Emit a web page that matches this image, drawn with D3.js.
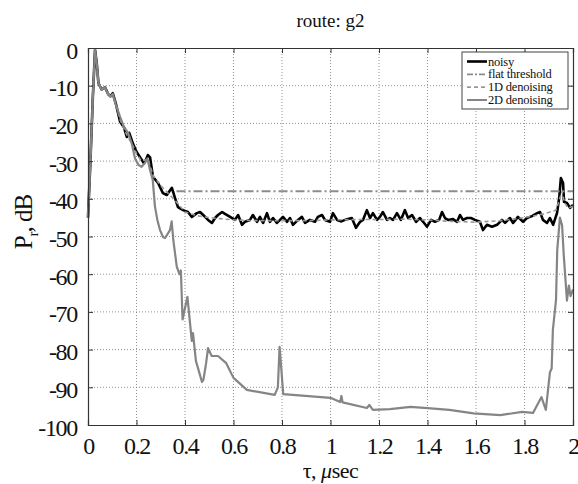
<!DOCTYPE html>
<html lang="en">
  <head>
    <meta charset="UTF-8" />
    <title>route: g2</title>
    <script src="https://d3js.org/d3.v7.min.js"></script>
    <style>
      body { margin: 0; background: #fff; }
      text { font-family: "Liberation Serif", "DejaVu Serif", serif; fill: #111; }
      .tick-label { font-size: 24px; letter-spacing: -1.3px; }
      .legend_text { font-size: 12.5px; letter-spacing: -0.2px; }
    </style>
  </head>
  <body>
    <svg width="578" height="484"></svg>
    <script>
      // tick values / labels
      const xTicks = [0, 0.2, 0.4, 0.6, 0.8, 1, 1.2, 1.4, 1.6, 1.8, 2];
      const yTicks = [0, -10, -20, -30, -40, -50, -60, -70, -80, -90, -100];

      // [tau (usec), power (dB)]
      const noisy = [
        [0, -45], [0.01, -30], [0.02, -13], [0.029, -0.5], [0.036, -4], [0.043, -9.3],
        [0.056, -11], [0.07, -10.4], [0.084, -12.3], [0.093, -12.8], [0.102, -12],
        [0.115, -14.8], [0.132, -19.5], [0.148, -21], [0.16, -23.6], [0.17, -22.5],
        [0.186, -25.5], [0.2, -27.5], [0.215, -29], [0.23, -30.5], [0.24, -29.5],
        [0.247, -28.4], [0.256, -29], [0.268, -34.2], [0.289, -35.8], [0.309, -38.5],
        [0.325, -39], [0.346, -37.1], [0.359, -39.8], [0.371, -42.2], [0.392, -43],
        [0.412, -43.5], [0.428, -44.8], [0.449, -43.8], [0.462, -43.5], [0.475, -44.3],
        [0.495, -45.6], [0.511, -46.4], [0.524, -45.1], [0.536, -44.3], [0.553, -43.5],
        [0.565, -44], [0.586, -44.8], [0.606, -45.6], [0.619, -44.3], [0.635, -46.9],
        [0.647, -46.1], [0.668, -45.6], [0.68, -44.3], [0.697, -46.1], [0.709, -44.8],
        [0.722, -46.4], [0.738, -43.8], [0.75, -46.1], [0.763, -45.1], [0.779, -46.4],
        [0.792, -45.6], [0.804, -44.8], [0.821, -46.1], [0.833, -45.1], [0.845, -46.9],
        [0.866, -45.6], [0.882, -44.8], [0.895, -46.4], [0.915, -45.6], [0.936, -46.1],
        [0.948, -44.8], [0.965, -44.3], [0.977, -45.6], [0.998, -46.1], [1.01, -43.8],
        [1.027, -45.6], [1.045, -46], [1.068, -45.4], [1.088, -45.1], [1.105, -47.7],
        [1.122, -46.1], [1.134, -45.6], [1.15, -43], [1.163, -45.1], [1.175, -43.8],
        [1.192, -45.6], [1.204, -44.8], [1.216, -43.5], [1.233, -45.6], [1.245, -45.1],
        [1.258, -45.6], [1.274, -43.8], [1.29, -45.6], [1.307, -43], [1.32, -45.1],
        [1.336, -44.3], [1.353, -46.1], [1.369, -45.1], [1.382, -46.1], [1.398, -47.4],
        [1.415, -45.6], [1.431, -46.1], [1.448, -45.6], [1.46, -43.5], [1.472, -45.1],
        [1.485, -45.6], [1.505, -45.4], [1.522, -46.1], [1.534, -44.3], [1.546, -45.6],
        [1.563, -45.1], [1.579, -45.1], [1.596, -45.6], [1.616, -46.1], [1.629, -48.3],
        [1.645, -46.9], [1.666, -47.4], [1.687, -46.9], [1.707, -45.6], [1.72, -46.4],
        [1.74, -45.1], [1.753, -46.4], [1.773, -44.8], [1.794, -46.1], [1.81, -45.1],
        [1.831, -44.6], [1.852, -43.8], [1.864, -43.5], [1.876, -45.6], [1.893, -46.4],
        [1.905, -45.1], [1.918, -46.9], [1.934, -43.8], [1.943, -39.8], [1.95, -34.5],
        [1.959, -35.8], [1.963, -40.8], [1.975, -41.1], [1.988, -42.4], [2.0, -41.6]
      ];

      const flatThreshold = [[0.365, -38], [2.0, -38]];

      const denoise1D = [
        [0, -45], [0.01, -30], [0.02, -13], [0.029, -0.5], [0.043, -9.3], [0.056, -11],
        [0.07, -10.5], [0.093, -12.8], [0.102, -12.2], [0.115, -15], [0.132, -19],
        [0.16, -23], [0.186, -26], [0.2, -28], [0.22, -30], [0.247, -29.5], [0.27, -34],
        [0.3, -36.5], [0.33, -38.5], [0.36, -40.5], [0.4, -43.5], [0.45, -44.5],
        [0.5, -45], [0.6, -45.6], [0.7, -45.8], [0.8, -45.8], [0.9, -45.8], [1.0, -45.6],
        [1.1, -45.5], [1.2, -45.5], [1.3, -45.4], [1.4, -45.6], [1.5, -46], [1.6, -46.2],
        [1.7, -45.8], [1.8, -45], [1.88, -44], [1.93, -43], [1.945, -40], [1.955, -38],
        [1.965, -41], [1.98, -42.5], [2.0, -42]
      ];

      const denoise2D = [
        [0, -44.5], [0.01, -30], [0.02, -13], [0.029, -0.5], [0.036, -4], [0.043, -9.3],
        [0.056, -11.1], [0.07, -10.4], [0.084, -12.5], [0.093, -12.9], [0.102, -12.2],
        [0.115, -15.1], [0.132, -18.2], [0.148, -20.9], [0.166, -22.6], [0.18, -25.3],
        [0.194, -29.3], [0.208, -31], [0.221, -31.5], [0.235, -30.5], [0.245, -29.3],
        [0.256, -32.4], [0.267, -35], [0.276, -42], [0.286, -45.6], [0.297, -48.3],
        [0.31, -50.2], [0.318, -50.4], [0.338, -48.3], [0.345, -46], [0.352, -51],
        [0.366, -58], [0.377, -60], [0.383, -59], [0.39, -72], [0.41, -66], [0.428, -77.7],
        [0.433, -75.6], [0.445, -83], [0.47, -88.6], [0.476, -88], [0.487, -83.6],
        [0.495, -79.6], [0.51, -81.7], [0.536, -81.7], [0.57, -83.6], [0.6, -87.5],
        [0.655, -90.7], [0.77, -92], [0.783, -90], [0.79, -79.3], [0.797, -85],
        [0.805, -91.8], [1.0, -92.8], [1.04, -93.9], [1.045, -92.3], [1.05, -94],
        [1.15, -95.5], [1.16, -94.7], [1.175, -96], [1.245, -95.8], [1.33, -95.2],
        [1.4, -95.5], [1.49, -96], [1.59, -96.9], [1.7, -97.4], [1.79, -96.5],
        [1.835, -96.8], [1.87, -92.6], [1.888, -96], [1.905, -86], [1.912, -85],
        [1.917, -74.8], [1.93, -66.8], [1.935, -53.6], [1.946, -45], [1.955, -47],
        [1.962, -55], [1.975, -67], [1.983, -63], [1.99, -65.8], [2.0, -64]
      ];

      const svg = d3.select("svg");
      const mLeft = 88, mRight = 573, mTop = 48, mBottom = 425;

      const x = d3.scaleLinear().domain([0, 2]).range([mLeft, mRight]);
      const y = d3.scaleLinear().domain([-100, 0]).range([mBottom, mTop]);

      // dotted grid
      const grid = svg.append("g").attr("stroke", "#777").attr("stroke-width", 0.8)
        .attr("stroke-dasharray", "1,2");
      grid.selectAll(".gx").data(xTicks.slice(1, -1)).enter().append("line")
        .attr("x1", d => x(d)).attr("x2", d => x(d))
        .attr("y1", mTop).attr("y2", mBottom);
      grid.selectAll(".gy").data(yTicks.slice(1, -1)).enter().append("line")
        .attr("x1", mLeft).attr("x2", mRight)
        .attr("y1", d => y(d)).attr("y2", d => y(d));

      // lines
      const line = d3.line().x(d => x(d[0])).y(d => y(d[1]));
      const plot = svg.append("g").attr("fill", "none").attr("stroke-linejoin", "round");

      plot.append("path").datum(noisy).attr("d", line)
        .attr("stroke", "#000").attr("stroke-width", 2.6);
      plot.append("path").datum(flatThreshold).attr("d", line)
        .attr("stroke", "#8c8c8c").attr("stroke-width", 2)
        .attr("stroke-dasharray", "9,3,2,3");
      plot.append("path").datum(denoise1D).attr("d", line)
        .attr("stroke", "#999").attr("stroke-width", 1.6)
        .attr("stroke-dasharray", "4,3");
      plot.append("path").datum(denoise2D).attr("d", line)
        .attr("stroke", "#858585").attr("stroke-width", 2.2);

      // axes (ticks inward on all four sides)
      const fmt = d => String(d);
      const axB = svg.append("g").attr("transform", `translate(0,${mBottom})`)
        .call(d3.axisBottom(x).tickValues(xTicks).tickSize(-5).tickPadding(14).tickFormat(fmt));
      const axT = svg.append("g").attr("transform", `translate(0,${mTop})`)
        .call(d3.axisTop(x).tickValues(xTicks).tickSize(-5).tickFormat(""));
      const axL = svg.append("g").attr("transform", `translate(${mLeft},0)`)
        .call(d3.axisLeft(y).tickValues(yTicks).tickSize(-5).tickPadding(11).tickFormat(fmt));
      const axR = svg.append("g").attr("transform", `translate(${mRight},0)`)
        .call(d3.axisRight(y).tickValues(yTicks).tickSize(-5).tickFormat(""));

      [axB, axT, axL, axR].forEach(g => {
        g.selectAll("path").attr("stroke", "#333").attr("stroke-width", 1.2);
        g.selectAll("line").attr("stroke", "#333");
        g.selectAll("text").attr("class", "tick-label").attr("fill", "#111")
          .style("font-family", "'Liberation Serif', serif");
      });
      axL.selectAll("text").attr("dy", "0.42em");
      axB.selectAll("text").attr("dy", "0.62em");

      // titles
      svg.append("text").attr("x", (mLeft + mRight) / 2).attr("y", 27)
        .attr("text-anchor", "middle").style("font-size", "19px").text("route: g2");

      const xl = svg.append("text").attr("x", (mLeft + mRight) / 2).attr("y", 478)
        .attr("text-anchor", "middle").style("font-size", "22px").style("letter-spacing", "-0.5px");
      xl.append("tspan").text("τ,  ");
      xl.append("tspan").style("font-style", "italic").text("μ");
      xl.append("tspan").text("sec");

      const yl = svg.append("text").attr("transform", "translate(32,222) rotate(-90)")
        .attr("text-anchor", "middle").style("font-size", "25px").style("letter-spacing", "-1px");
      yl.append("tspan").text("P");
      yl.append("tspan").attr("dy", 6).style("font-size", "15px").text("r");
      yl.append("tspan").attr("dy", -6).text(", dB");

      // legend
      const legendItems = ["noisy", "flat threshold", "1D denoising", "2D denoising"];
      const legendStroke = ["#000", "#8c8c8c", "#999", "#858585"];
      const legendWidth = [2.6, 1.6, 1.6, 2];
      const legendDash = [null, "6,2,2,2", "4,3", null];

      const lg = svg.append("g");
      lg.append("rect").attr("x", 462).attr("y", 52).attr("width", 106).attr("height", 57)
        .attr("fill", "#fff").attr("stroke", "#444").attr("stroke-width", 1);
      const rowY = d3.scaleLinear().domain([0, 3]).range([61.5, 100]);
      legendItems.forEach((name, i) => {
        lg.append("line").attr("x1", 467).attr("x2", 487)
          .attr("y1", rowY(i)).attr("y2", rowY(i))
          .attr("stroke", legendStroke[i]).attr("stroke-width", legendWidth[i])
          .attr("stroke-dasharray", legendDash[i]);
        lg.append("text").attr("class", "legend_text").attr("x", 488).attr("y", rowY(i) + 4)
          .text(name);
      });
    </script>
  </body>
</html>
